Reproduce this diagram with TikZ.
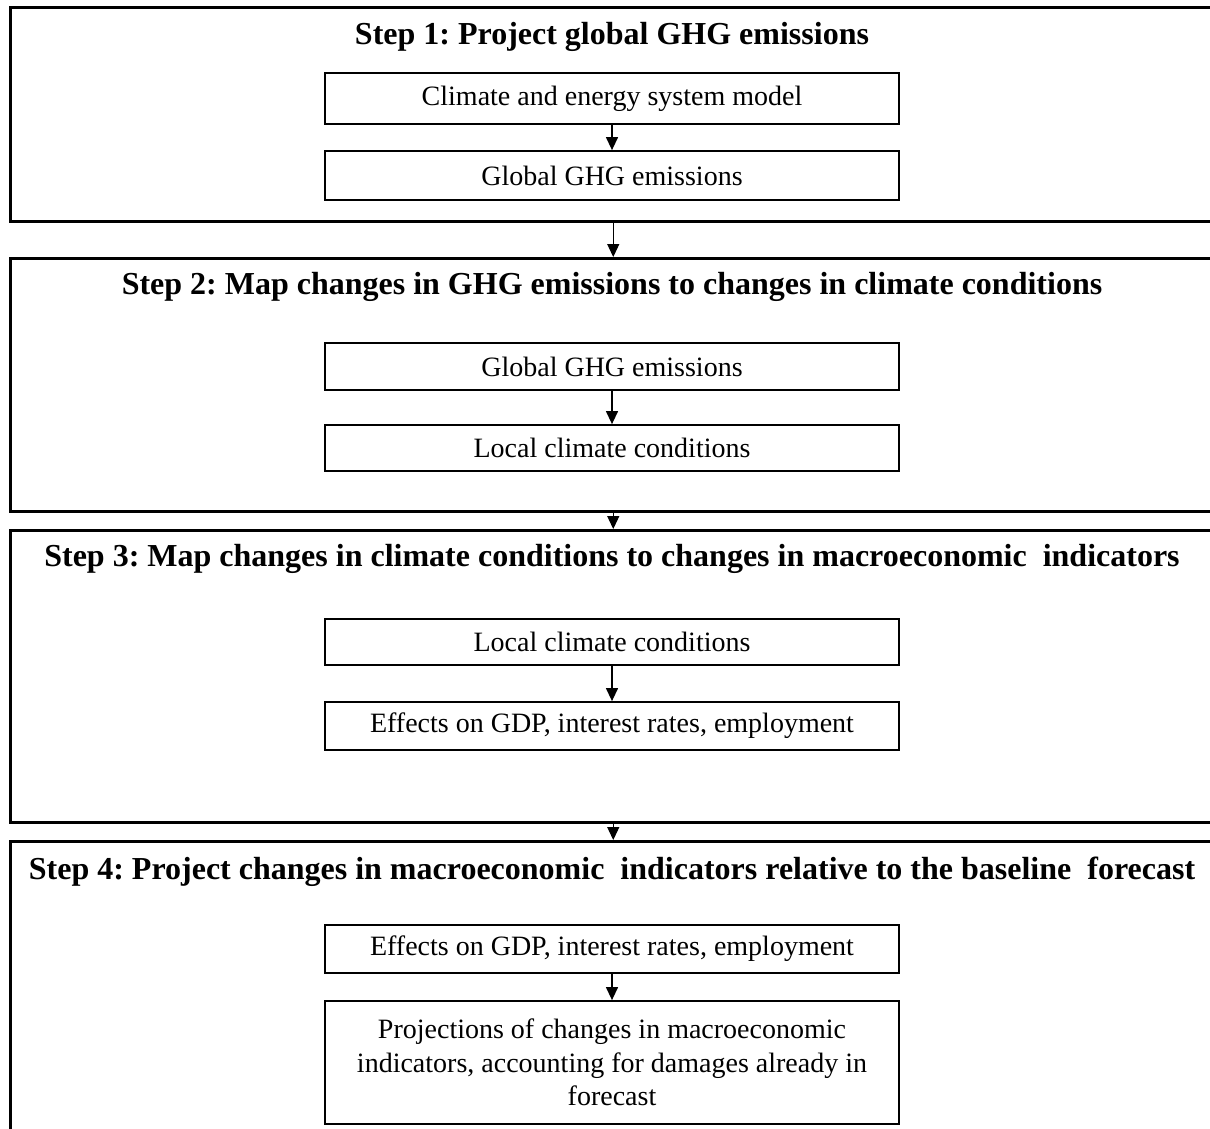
\documentclass[tikz,border=0pt]{standalone}
\usepackage{fontspec}
\setmainfont{Liberation Serif}
\usetikzlibrary{arrows.meta}
\usetikzlibrary{positioning}
\frenchspacing

\tikzset{
	stepbox/.style={draw,line width=2.5pt,minimum width=1206pt,anchor=north west,inner sep=0pt},
	steptitle/.style={font=\fontsize{32}{36}\selectfont\bfseries,inner sep=0pt},
	inbox/.style={draw,line width=1.8pt,minimum width=574pt,align=center,
		font=\fontsize{28}{33.5}\selectfont,inner sep=2pt},
	arr/.style={line width=1.3pt,-{Triangle[length=13pt,width=12pt]}}
}

\begin{document}
\begin{tikzpicture}[x=1pt,y=-1pt]
		%Frame
			\useasboundingbox (0,0) rectangle (1210,1128);
		%Step frames
			\node[stepbox,minimum height=214pt] (step1) at (9,6) {};
			\node[stepbox,minimum height=253pt] (step2) at (9,257) {};
			\node[stepbox,minimum height=292pt] (step3) at (9,529) {};
			\node[stepbox,minimum height=310pt] (step4) at (9,840) {};
		%Titles
			\node[steptitle] (title1) at (612,37) {Step 1: Project global GHG emissions};
			\node[steptitle] (title2) at (612,287) {Step 2: Map changes in GHG emissions to changes in climate conditions};
			\node[steptitle] (title3) at (612,559) {Step 3: Map changes in climate conditions to changes in macroeconomic\ \ indicators};
			\node[steptitle] (title4) at (612,872) {Step 4: Project changes in macroeconomic\ \ indicators relative to the baseline\ \ forecast};
		%Step 1
			\node[inbox,minimum height=51pt] (model) at (612,98.5) {Climate and energy system model};
			\node[inbox,minimum height=49pt] (ghg1) at (612,175.5) {Global GHG emissions};
		%Step 2
			\node[inbox,minimum height=47pt] (ghg2) at (612,366.5) {Global GHG emissions};
			\node[inbox,minimum height=46pt] (local2) at (612,448) {Local climate conditions};
		%Step 3
			\node[inbox,minimum height=46pt] (local3) at (612,642) {Local climate conditions};
			\node[inbox,minimum height=48pt] (gdp3) at (612,726) {Effects on GDP, interest rates, employment};
		%Step 4
			\node[inbox,minimum height=48pt] (gdp4) at (612,949) {Effects on GDP, interest rates, employment};
			\node[inbox,minimum height=123pt] (proj) at (612,1062.5) {Projections of changes in macroeconomic\\ indicators, accounting for damages already in\\ forecast};
		%Arrows inside steps
			\draw[arr] (model) -- (ghg1);
			\draw[arr] (ghg2) -- (local2);
			\draw[arr] (local3) -- (gdp3);
			\draw[arr] (gdp4) -- (proj);
		%Arrows between steps
			\foreach \a/\b in {1/2,2/3,3/4}
			{
				\draw[arr] (step\a.south) -- (step\b.north);
			}
	\end{tikzpicture}
\end{document}
